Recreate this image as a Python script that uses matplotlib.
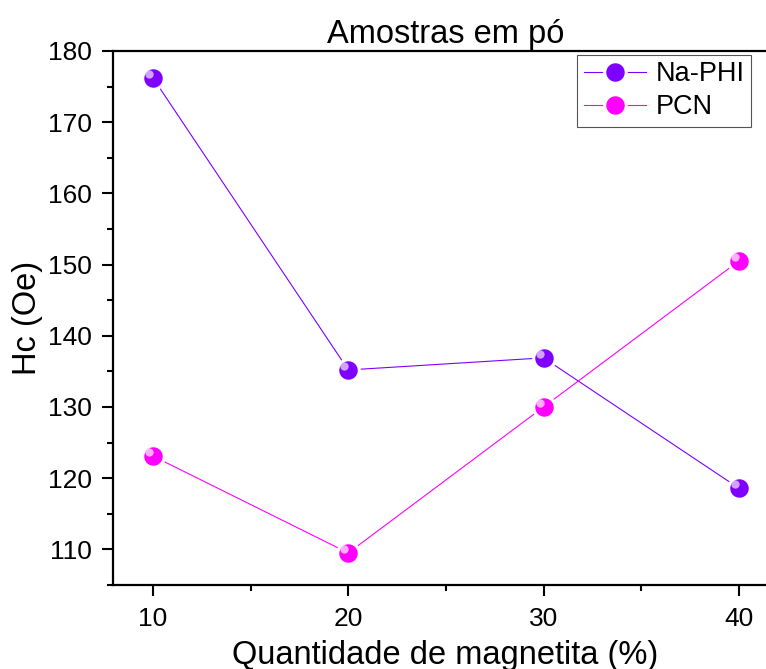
import matplotlib.pyplot as plt
import matplotlib.transforms as mtransforms
import numpy as np

plt.rcParams['font.family'] = ['Liberation Sans', 'DejaVu Sans']

# data
magnetita = [10, 20, 30, 40]
na_phi = [176.2, 135.2, 136.9, 118.6]
pcn = [123.1, 109.5, 130.0, 150.5]

fig = plt.figure(figsize=(7.66, 6.69), dpi=100)
ax = fig.add_axes([0.1475, 0.1256, 0.868, 0.7982])

def sphere(x, y, color, light, label):
    ax.plot(x, y, color=color, lw=0.8, marker='o', markersize=15.5,
            markerfacecolor=color, markeredgecolor='white', markeredgewidth=2.2,
            label=label, zorder=3)
    # highlight for the 3D-ball look
    off = mtransforms.ScaledTranslation(-2.8 / 72, 2.8 / 72, fig.dpi_scale_trans)
    ax.plot(x, y, ls='none', marker='o', markersize=6, markerfacecolor=light,
            markeredgewidth=0, alpha=0.8, transform=ax.transData + off, zorder=4)

sphere(magnetita, na_phi, '#7f00ff', '#e6ccff', 'Na-PHI')
sphere(magnetita, pcn, '#ff00ff', '#ffd9ff', 'PCN')

ax.set_xlim(7.95, 42)
ax.set_ylim(105, 180)
ax.set_xticks([10, 20, 30, 40])
ax.set_xticks([15, 25, 35], minor=True)
ax.set_yticks(np.arange(110, 181, 10))
ax.set_yticks(np.arange(105, 180, 10), minor=True)
ax.tick_params(axis='both', which='major', direction='out', length=8, width=1.5,
               labelsize=19, pad=7)
ax.tick_params(axis='both', which='minor', direction='out', length=4, width=1.5)
ax.tick_params(axis='x', which='major', pad=8)
for s in ax.spines.values():
    s.set_linewidth(1.6)
ax.spines['right'].set_visible(False)

ax.set_xlabel('Quantidade de magnetita (%)', fontsize=23.5, labelpad=6)
ax.set_ylabel('Hc (Oe)', fontsize=23.5, labelpad=4)
ax.set_title('Amostras em pó', fontsize=23.5, pad=6)

leg = ax.legend(loc='upper left', bbox_to_anchor=(0.698, 0.993), fontsize=19.5,
                fancybox=False, framealpha=1, edgecolor='#555555',
                borderpad=0.25, handlelength=2.3, handletextpad=0.35,
                labelspacing=0.25, borderaxespad=0)
leg.get_frame().set_linewidth(0.8)

fig.savefig('out.png', dpi=100)
